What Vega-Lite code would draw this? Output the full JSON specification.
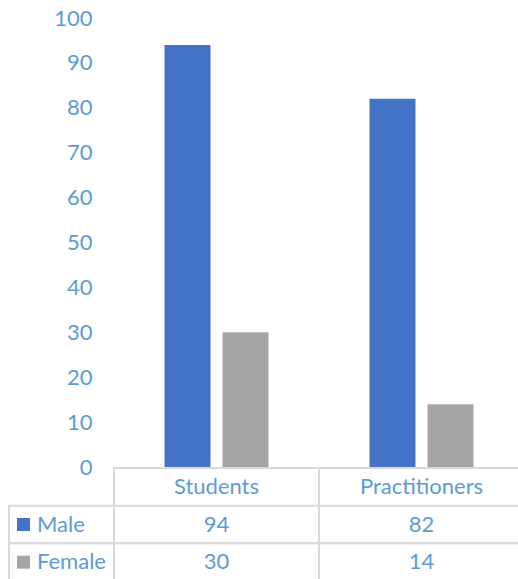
{
  "$schema": "https://vega.github.io/schema/vega-lite/v6.json",
  "width": 518,
  "height": 579,
  "padding": 0,
  "autosize": {"type": "none"},
  "background": "white",
  "config": {
    "view": {"stroke": null},
    "font": "Lato",
    "text": {"font": "Lato", "fontSize": 22, "color": "#5b9bd5"}
  },
  "data": {
    "values": [
      {"category": "Students", "gender": "Male", "value": 94},
      {"category": "Practitioners", "gender": "Male", "value": 82},
      {"category": "Students", "gender": "Female", "value": 30},
      {"category": "Practitioners", "gender": "Female", "value": 14}
    ]
  },
  "layer": [
    {
      "mark": {"type": "bar"},
      "encoding": {
        "x": {"field": "category", "type": "nominal", "sort": null,
              "scale": {"domain": ["Students", "Practitioners"], "range": [114, 524], "paddingInner": 0, "paddingOuter": 0},
              "axis": null},
        "xOffset": {"field": "gender", "type": "nominal",
              "scale": {"domain": ["Male", "Female"], "paddingInner": 0.207, "paddingOuter": 0.871}},
        "y": {"field": "value", "type": "quantitative",
              "scale": {"domain": [0, 100], "range": [467, 18], "nice": false},
              "axis": {"values": [0, 10, 20, 30, 40, 50, 60, 70, 80, 90, 100], "offset": -114,
                       "domain": false, "ticks": false, "tickSize": 0, "grid": false, "title": null,
                       "labelPadding": 22, "labelFont": "Lato", "labelFontSize": 22, "labelColor": "#5b9bd5"}},
        "color": {"field": "gender", "type": "nominal",
                  "scale": {"domain": ["Male", "Female"], "range": ["#4472c4", "#a5a5a5"]}, "legend": null}
      }
    },
    {
      "layer": [
        {
          "mark": {"type": "rect", "filled": false, "stroke": "#d9d9d9", "strokeWidth": 2},
          "encoding": {
            "x": {"field": "category", "type": "nominal", "scale": {"domain": ["Students", "Practitioners"], "range": [114, 524], "paddingInner": 0, "paddingOuter": 0}, "axis": null},
            "y": {"field": "gender", "type": "nominal", "scale": {"domain": ["header", "Male", "Female"], "range": [468, 581], "paddingInner": 0, "paddingOuter": 0}, "axis": null}
          }
        },
        {
          "transform": [{"filter": "datum.gender === 'Male'"}],
          "mark": {"type": "rect", "filled": false, "stroke": "#d9d9d9", "strokeWidth": 2},
          "encoding": {
            "x": {"field": "category", "type": "nominal", "axis": null},
            "y": {"datum": "header", "type": "nominal", "axis": null}
          }
        },
        {
          "transform": [{"filter": "datum.gender === 'Male'"}],
          "mark": {"type": "text", "baseline": "middle", "align": "center"},
          "encoding": {
            "x": {"field": "category", "type": "nominal", "axis": null},
            "y": {"datum": "header", "type": "nominal", "axis": null},
            "text": {"field": "category"}
          }
        },
        {
          "mark": {"type": "text", "baseline": "middle", "align": "center"},
          "encoding": {
            "x": {"field": "category", "type": "nominal", "axis": null},
            "y": {"field": "gender", "type": "nominal", "axis": null},
            "text": {"field": "value"}
          }
        }
      ]
    },
    {
      "transform": [{"filter": "datum.category === 'Students'"}],
      "layer": [
        {
          "mark": {"type": "rect", "filled": false, "stroke": "#d9d9d9", "strokeWidth": 2},
          "encoding": {
            "x": {"datum": "legend", "type": "nominal", "scale": {"domain": ["legend"], "range": [9, 114], "paddingInner": 0, "paddingOuter": 0}, "axis": null},
            "y": {"field": "gender", "type": "nominal", "scale": {"domain": ["header", "Male", "Female"], "range": [468, 581], "paddingInner": 0, "paddingOuter": 0}, "axis": null}
          }
        },
        {
          "mark": {"type": "point", "shape": "square", "filled": true, "size": 169, "opacity": 1, "xOffset": 14.5},
          "encoding": {
            "x": {"datum": "legend", "type": "nominal", "bandPosition": 0, "axis": null},
            "y": {"field": "gender", "type": "nominal", "axis": null},
            "color": {"field": "gender", "type": "nominal", "legend": null}
          }
        },
        {
          "mark": {"type": "text", "baseline": "middle", "align": "left", "dx": 28},
          "encoding": {
            "x": {"datum": "legend", "type": "nominal", "bandPosition": 0, "axis": null},
            "y": {"field": "gender", "type": "nominal", "axis": null},
            "text": {"field": "gender"}
          }
        }
      ],
      "resolve": {"scale": {"x": "shared", "y": "shared"}}
    }
  ],
  "resolve": {"scale": {"x": "independent", "y": "independent", "xOffset": "independent"}}
}
